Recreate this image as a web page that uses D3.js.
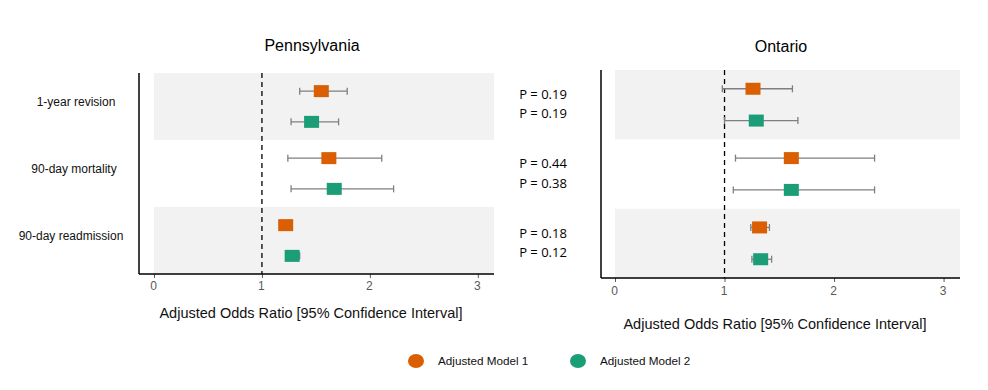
<!DOCTYPE html>
<html>
<head>
<meta charset="utf-8">
<script src="https://cdn.jsdelivr.net/npm/d3@7"></script>
<style>
  html, body { margin: 0; padding: 0; background: #fff; }
  svg { display: block; font-family: "Liberation Sans", Arial, sans-serif; }
</style>
</head>
<body>
<svg id="chart" width="988" height="390"></svg>
<script>
// ---- data ----
const outcomes = ["1-year revision", "90-day mortality", "90-day readmission"];
const models = ["Adjusted Model 1", "Adjusted Model 2"];
const regions = ["Pennsylvania", "Ontario"];
const xTicks = [0, 1, 2, 3];
// Pennsylvania: odds ratio, lower CI, upper CI (per outcome, Model 1 then Model 2)
const paOR    = [1.55, 1.46, 1.62, 1.67, 1.22, 1.28];
const paLow   = [1.35, 1.27, 1.24, 1.27, 1.18, 1.23];
const paHigh  = [1.79, 1.71, 2.11, 2.22, 1.26, 1.35];
// Ontario
const onOR    = [1.26, 1.29, 1.61, 1.61, 1.32, 1.33];
const onLow   = [0.98, 1.00, 1.10, 1.08, 1.24, 1.25];
const onHigh  = [1.62, 1.67, 2.37, 2.37, 1.41, 1.43];
const pValues = ["P = 0.19", "P = 0.19", "P = 0.44", "P = 0.38", "P = 0.18", "P = 0.12"];
const colors = ["#D95F02", "#1B9E77"];

function rows(or, lo, hi) {
  const out = [];
  outcomes.forEach((o, i) => models.forEach((m, j) => {
    const k = i * 2 + j;
    out.push({ outcome: o, model: m, or: or[k], lo: lo[k], hi: hi[k], p: pValues[k] });
  }));
  return out;
}
const panels = [
  { name: regions[0], data: rows(paOR, paLow, paHigh), axisX: 139, x0: 154, x1: 494, top: 73, bottom: 274,
    titleX: 312, titleY: 51, tickY: 290, labelX: 311, labelY: 318 },
  { name: regions[1], data: rows(onOR, onLow, onHigh), axisX: 601, x0: 615, x1: 960, top: 70, bottom: 278,
    titleX: 781, titleY: 52, tickY: 295, labelX: 775, labelY: 329 }
];

const svg = d3.select("#chart");

panels.forEach((P, pi) => {
  const x = d3.scaleLinear().domain([0, 3.15]).range([P.x0, P.x1]);
  const y = d3.scaleBand().domain(outcomes).range([P.top, P.bottom]).padding(0);
  const yIn = d3.scalePoint().domain(models).range([0, y.bandwidth()]).padding(0.59);
  const g = svg.append("g");

  // shaded bands
  g.selectAll("rect.band").data(outcomes.filter((d, i) => i % 2 === 0)).join("rect")
    .attr("x", x(0)).attr("y", d => y(d))
    .attr("width", x(3.15) - x(0)).attr("height", y.bandwidth())
    .attr("fill", "#F2F2F2");

  // reference line at OR = 1
  g.append("line")
    .attr("x1", x(1)).attr("x2", x(1)).attr("y1", P.top).attr("y2", P.bottom)
    .attr("stroke", "#000").attr("stroke-width", 1.3).attr("stroke-dasharray", "5,4");

  // x axis
  const ax = g.append("g").attr("transform", `translate(0,${P.bottom})`)
    .call(d3.axisBottom(x).tickValues(xTicks).tickFormat(d3.format("d")).tickSize(4).tickSizeOuter(0));
  ax.select(".domain").remove();
  ax.selectAll(".tick line").attr("stroke", "#595959");
  ax.selectAll(".tick text").attr("fill", "#595959").attr("font-size", 12)
    .attr("y", null).attr("dy", null)
    .attr("transform", `translate(-1,${P.tickY - P.bottom})`);
  g.append("line").attr("x1", P.axisX).attr("x2", P.x1).attr("y1", P.bottom).attr("y2", P.bottom)
    .attr("stroke", "#000").attr("stroke-width", 1.5);
  // y axis line
  g.append("line").attr("x1", P.axisX).attr("x2", P.axisX).attr("y1", P.top).attr("y2", P.bottom)
    .attr("stroke", "#000").attr("stroke-width", 1.5);

  // error bars
  const cy = d => y(d.outcome) + yIn(d.model);
  g.selectAll("line.ci").data(P.data).join("line")
    .attr("x1", d => x(d.lo)).attr("x2", d => x(d.hi)).attr("y1", cy).attr("y2", cy)
    .attr("stroke", "#7F7F7F").attr("stroke-width", 1.3);
  ["lo", "hi"].forEach(k => {
    g.selectAll("line.cap-" + k).data(P.data).join("line")
      .attr("x1", d => x(d[k])).attr("x2", d => x(d[k]))
      .attr("y1", d => cy(d) - 3.5).attr("y2", d => cy(d) + 3.5)
      .attr("stroke", "#7F7F7F").attr("stroke-width", 1.3);
  });
  // squares
  g.selectAll("rect.pt").data(P.data).join("rect")
    .attr("x", d => x(d.or) - 7.5).attr("y", d => cy(d) - 6)
    .attr("width", 15).attr("height", 12)
    .attr("fill", d => colors[models.indexOf(d.model)]);

  // title
  g.append("text").attr("x", P.titleX).attr("y", P.titleY)
    .attr("text-anchor", "middle").attr("font-size", 16).attr("fill", "#000").text(P.name);
  // x axis label
  g.append("text").attr("x", P.labelX).attr("y", P.labelY)
    .attr("text-anchor", "middle").attr("font-size", 14.5).attr("fill", "#111")
    .text("Adjusted Odds Ratio [95% Confidence Interval]");

  if (pi === 0) {
    // outcome labels
    const lx = [76, 74, 71];
    g.selectAll("text.ylab").data(outcomes).join("text")
      .attr("x", (d, i) => lx[i]).attr("y", d => y(d) + y.bandwidth() / 2 - 1)
      .attr("text-anchor", "middle").attr("font-size", 12)
      .attr("fill", "#111").text(d => d);
  } else {
    // p-values, paired per outcome row of the Ontario panel
    const pIn = d3.scalePoint().domain(models).range([-5.75, 13.75]);
    g.selectAll("text.pval").data(P.data).join("text")
      .attr("x", 543).attr("y", d => y(d.outcome) + y.bandwidth() / 2 + pIn(d.model))
      .attr("text-anchor", "middle").attr("font-size", 13).attr("fill", "#000")
      .attr("font-family", "'Open Sans', 'Liberation Sans', sans-serif")
      .text(d => d.p);
  }
});

// legend
const leg = svg.append("g");
const legX = [416, 578];
models.forEach((m, i) => {
  leg.append("ellipse").attr("cx", legX[i]).attr("cy", 361).attr("rx", 8).attr("ry", 7)
    .attr("fill", colors[i]);
  leg.append("text").attr("x", legX[i] + 22).attr("y", 365).attr("font-size", 11.7)
    .attr("fill", "#111").text(m);
});
</script>
</body>
</html>
